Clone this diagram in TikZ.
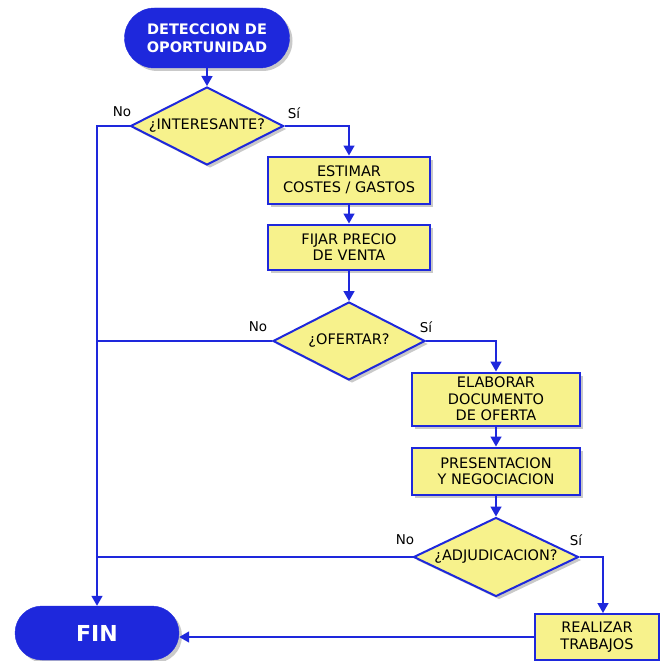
\documentclass[tikz,border=0pt]{standalone}
\usepackage{fontspec}
\setmainfont{DejaVu Sans}
\usetikzlibrary{shapes.geometric,shapes.misc,arrows.meta,shadows}
\definecolor{fblue}{HTML}{1E28DC}
\definecolor{fyellow}{HTML}{F7F28C}
\newcommand{\dtxt}[1]{\makebox[0pt][c]{#1}}
\tikzset{
  every picture/.style={x=1pt,y=-1pt},
  procbox/.style={draw=fblue, line width=2pt, fill=fyellow, minimum width=162pt, inner sep=0pt, align=center, font=\fontsize{14.5}{16.5}\selectfont, drop shadow={shadow xshift=3pt, shadow yshift=-3pt, fill=gray!60, opacity=0.7}},
  decision/.style={diamond, draw=fblue, line width=2pt, fill=fyellow, inner sep=0pt, font=\fontsize{14.5}{16.5}\selectfont, drop shadow={shadow xshift=3pt, shadow yshift=-3pt, fill=gray!60, opacity=0.7}},
  terminal/.style={rounded rectangle, draw=fblue, fill=fblue, text=white, inner sep=0pt, align=center, drop shadow={shadow xshift=3pt, shadow yshift=-3pt, fill=gray!60, opacity=0.7}},
  flow/.style={draw=fblue, line width=1.6pt},
  flowarrow/.style={flow, -{Triangle[width=11pt,length=10pt,fill=fblue]}},
  lbl/.style={font=\fontsize{13.5}{15}\selectfont, inner sep=0pt}
}
\begin{document}
\begin{tikzpicture}
\useasboundingbox (0,0) rectangle (660,661);
% terminals
\node[terminal, minimum width=165pt, minimum height=60pt, font=\bfseries\fontsize{14.5}{18}\selectfont] (start) at (207,38) {DETECCION DE\\OPORTUNIDAD};
\node[terminal, minimum width=164pt, minimum height=54pt, font=\bfseries\fontsize{22}{24}\selectfont] (fin) at (97,633) {FIN};
% decisions
\node[decision, minimum width=153pt, minimum height=78pt] (d1) at (207,126) {\dtxt{¿INTERESANTE?}};
\node[decision, minimum width=152pt, minimum height=78pt] (d2) at (349,341) {\dtxt{¿OFERTAR?}};
\node[decision, minimum width=165pt, minimum height=79pt] (d3) at (496,557) {\dtxt{¿ADJUDICACION?}};
% process boxes
\node[procbox, minimum height=47pt] (p1) at (349,180) {ESTIMAR\\COSTES / GASTOS};
\node[procbox, minimum height=45pt] (p2) at (349,247) {FIJAR PRECIO\\DE VENTA};
\node[procbox, minimum width=168pt, minimum height=53pt] (p3) at (496,399) {ELABORAR\\DOCUMENTO\\DE OFERTA};
\node[procbox, minimum width=168pt, minimum height=47pt] (p4) at (496,471) {PRESENTACION\\Y NEGOCIACION};
\node[procbox, minimum width=124pt, minimum height=46pt] (p5) at (597,637) {REALIZAR\\TRABAJOS};
% labels
\node[lbl] (no1) at (122,112) {No};
\node[lbl] (si1) at (294,113) {Sí};
\node[lbl] (no2) at (258,327) {No};
\node[lbl] (si2) at (426,327) {Sí};
\node[lbl] (no3) at (405,540) {No};
\node[lbl] (si3) at (576,540) {Sí};
% junction coordinates
\coordinate (j1) at (97,126);
\coordinate (j2) at (97,341);
\coordinate (j3) at (97,557);
\coordinate (s1) at (349,126);
\coordinate (s2) at (496,341);
\coordinate (s3) at (603,557);
% connectors
\draw[flowarrow] (start) -- (d1);
\draw[flowarrow] (d1.east) -- (s1) -- (p1.north);
\draw[flowarrow] (p1) -- (p2);
\draw[flowarrow] (p2) -- (d2);
\draw[flowarrow] (d2.east) -- (s2) -- (p3.north);
\draw[flowarrow] (p3) -- (p4);
\draw[flowarrow] (p4) -- (d3);
\draw[flowarrow] (d3.east) -- (s3) -- (s3 |- p5.north);
\draw[flowarrow] (d1.west) -- (j1) -- (fin.north);
\draw[flow] (d2.west) -- (j2);
\draw[flow] (d3.west) -- (j3);
\draw[flowarrow] (p5.west) -- (p5.west -| fin.east);
\end{tikzpicture}
\end{document}
